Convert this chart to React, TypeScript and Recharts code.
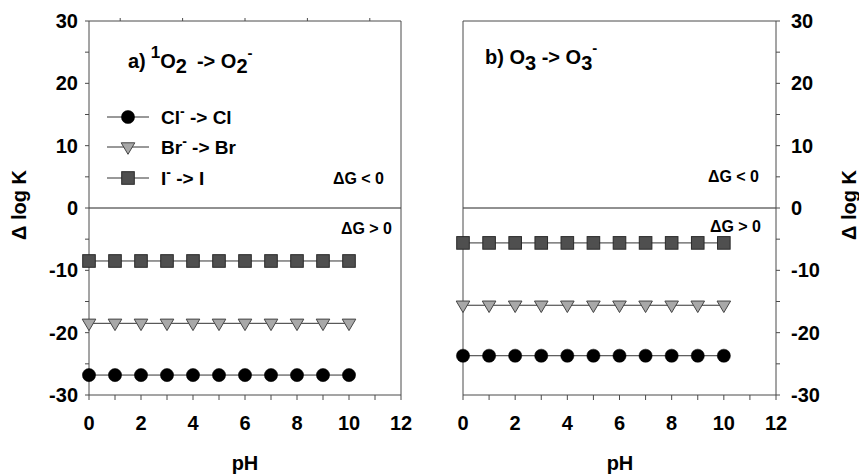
import React from 'react';
import { LineChart, Line, XAxis, YAxis, ReferenceLine, Legend } from 'recharts';

const pHValues = [0, 1, 2, 3, 4, 5, 6, 7, 8, 9, 10];
const xTicks = [0, 1, 2, 3, 4, 5, 6, 7, 8, 9, 10, 11, 12];
const xTopTicks = [1, 3, 5, 7, 9, 11];
const yTicks = [-30, -25, -20, -15, -10, -5, 0, 5, 10, 15, 20, 25, 30];

// panel a) 1O2 -> O2-
const aCl = [-26.8, -26.8, -26.8, -26.8, -26.8, -26.8, -26.8, -26.8, -26.8, -26.8, -26.8];
const aBr = [-18.5, -18.5, -18.5, -18.5, -18.5, -18.5, -18.5, -18.5, -18.5, -18.5, -18.5];
const aI = [-8.5, -8.5, -8.5, -8.5, -8.5, -8.5, -8.5, -8.5, -8.5, -8.5, -8.5];

// panel b) O3 -> O3-
const bCl = [-23.7, -23.7, -23.7, -23.7, -23.7, -23.7, -23.7, -23.7, -23.7, -23.7, -23.7];
const bBr = [-15.6, -15.6, -15.6, -15.6, -15.6, -15.6, -15.6, -15.6, -15.6, -15.6, -15.6];
const bI = [-5.6, -5.6, -5.6, -5.6, -5.6, -5.6, -5.6, -5.6, -5.6, -5.6, -5.6];

const dataA = pHValues.map((p, i) => ({ pH: p, cl: aCl[i], br: aBr[i], i_: aI[i] }));
const dataB = pHValues.map((p, i) => ({ pH: p, cl: bCl[i], br: bBr[i], i_: bI[i] }));

const FONT = '"Liberation Sans", Arial, Helvetica, sans-serif';
const AXIS = '#4a4a4a';
const LINE = '#333';

const CircleDot = (props: any) => {
  const { cx, cy, index } = props;
  if (cx == null || cy == null) return <g key={`c${index}`} />;
  return <circle key={`c${index}`} cx={cx} cy={cy} r={6.6} fill="#000" stroke="#000" strokeWidth={0.5} />;
};
const TriDot = (props: any) => {
  const { cx, cy, index } = props;
  if (cx == null || cy == null) return <g key={`t${index}`} />;
  const pts = `${cx - 6.8},${cy - 4.2} ${cx + 6.8},${cy - 4.2} ${cx},${cy + 7.3}`;
  return <polygon key={`t${index}`} points={pts} fill="#a8a8a8" stroke="#444" strokeWidth={1} />;
};
const SqDot = (props: any) => {
  const { cx, cy, index } = props;
  if (cx == null || cy == null) return <g key={`s${index}`} />;
  return <rect key={`s${index}`} x={cx - 6.3} y={cy - 6.3} width={12.6} height={12.6} fill="#4f4f4f" stroke="#2a2a2a" strokeWidth={1} />;
};

const XTick = (props: any) => {
  const { x, y, payload } = props;
  if (payload.value % 2 !== 0) return <g />;
  return (
    <text x={x} y={y + 28} textAnchor="middle" fontFamily={FONT} fontWeight="bold" fontSize={20} fill="#000">
      {payload.value}
    </text>
  );
};
const YTickLeft = (props: any) => {
  const { x, y, payload } = props;
  if (payload.value % 10 !== 0) return <g />;
  return (
    <text x={x - 5} y={y + 7} textAnchor="end" fontFamily={FONT} fontWeight="bold" fontSize={20} fill="#000">
      {payload.value}
    </text>
  );
};
const YTickRight = (props: any) => {
  const { x, y, payload } = props;
  if (payload.value % 10 !== 0) return <g />;
  return (
    <text x={x + 9} y={y + 7} textAnchor="start" fontFamily={FONT} fontWeight="bold" fontSize={20} fill="#000">
      {payload.value}
    </text>
  );
};
const Empty = () => <g />;

const legendRows = [
  { name: 'Cl', kind: 'circle' },
  { name: 'Br', kind: 'tri' },
  { name: 'I', kind: 'sq' },
];

const LegendContent = () => (
  <svg width={160} height={95} style={{ overflow: 'visible', display: 'block' }}>
    {legendRows.map((r, i) => {
      const cy = [15, 45, 76][i];
      const cx = 28;
      return (
        <g key={r.name}>
          <line x1={7} x2={49} y1={cy} y2={cy} stroke={LINE} strokeWidth={1} />
          {r.kind === 'circle' && <CircleDot cx={cx} cy={cy} index={i} />}
          {r.kind === 'tri' && <TriDot cx={cx} cy={cy} index={i} />}
          {r.kind === 'sq' && <SqDot cx={cx} cy={cy} index={i} />}
          <text x={61} y={cy + 7} fontFamily={FONT} fontWeight="bold" fontSize={19} fill="#000">
            {r.name}
            <tspan fontSize={14} dy={-8}>-</tspan>
            <tspan dy={8}>{` -> ${r.name}`}</tspan>
          </text>
        </g>
      );
    })}
  </svg>
);

export default function App() {
  return (
    <div style={{ position: 'absolute', left: 0, top: 0, width: 859, height: 475, background: '#fff' }}>
      <div style={{ position: 'absolute', left: 0, top: 0 }}>
        <LineChart width={430} height={475} data={dataA} margin={{ top: 20, right: 28, left: 0, bottom: 0 }}>
          <XAxis dataKey="pH" type="number" domain={[0, 12]} ticks={xTicks} interval={0} height={80}
            stroke={AXIS} tickLine={{ stroke: AXIS }} tickSize={5} tick={<XTick />} />
          <XAxis xAxisId="top" orientation="top" type="number" domain={[0, 12]} ticks={xTopTicks} interval={0} height={1}
            stroke={AXIS} tickLine={{ stroke: AXIS }} tickSize={3} tick={<Empty />} />
          <YAxis type="number" domain={[-30, 30]} ticks={yTicks} interval={0} width={89}
            stroke={AXIS} tickLine={{ stroke: AXIS }} tickSize={4} tick={<YTickLeft />} />
          <YAxis yAxisId="r" orientation="right" type="number" domain={[-30, 30]} ticks={yTicks} interval={0} width={1}
            stroke={AXIS} tickLine={{ stroke: AXIS }} tickSize={3} tick={<Empty />} />
          <ReferenceLine y={0} stroke="#222" strokeWidth={1} />
          <Legend layout="vertical" align="center" verticalAlign="middle" content={<LegendContent />}
            wrapperStyle={{ position: 'absolute', left: 100, top: 102, width: 160, height: 95 }} />
          <Line dataKey="cl" name="Cl- -> Cl" stroke={LINE} strokeWidth={1} dot={(p: any) => <CircleDot {...p} />} isAnimationActive={false} legendType="circle" />
          <Line dataKey="br" name="Br- -> Br" stroke={LINE} strokeWidth={1} dot={(p: any) => <TriDot {...p} />} isAnimationActive={false} legendType="triangle" />
          <Line dataKey="i_" name="I- -> I" stroke={LINE} strokeWidth={1} dot={(p: any) => <SqDot {...p} />} isAnimationActive={false} legendType="square" />
        </LineChart>
      </div>
      <div style={{ position: 'absolute', left: 430, top: 0 }}>
        <LineChart width={429} height={475} data={dataB} margin={{ top: 20, right: 0, left: 32, bottom: 0 }}>
          <XAxis dataKey="pH" type="number" domain={[0, 12]} ticks={xTicks} interval={0} height={80}
            stroke={AXIS} tickLine={{ stroke: AXIS }} tickSize={5} tick={<XTick />} />
          <XAxis xAxisId="top" orientation="top" type="number" domain={[0, 12]} ticks={[0, 12]} height={1}
            stroke={AXIS} tickLine={false} tick={<Empty />} />
          <YAxis type="number" orientation="right" domain={[-30, 30]} ticks={yTicks} interval={0} width={83}
            stroke={AXIS} tickLine={{ stroke: AXIS }} tickSize={4} tick={<YTickRight />} />
          <YAxis yAxisId="l" orientation="left" type="number" domain={[-30, 30]} ticks={yTicks} interval={0} width={1}
            stroke={AXIS} tickLine={{ stroke: AXIS }} tickSize={3} tick={<Empty />} />
          <ReferenceLine y={0} stroke="#222" strokeWidth={1} />
          <Line dataKey="cl" stroke={LINE} strokeWidth={1} dot={(p: any) => <CircleDot {...p} />} isAnimationActive={false} />
          <Line dataKey="br" stroke={LINE} strokeWidth={1} dot={(p: any) => <TriDot {...p} />} isAnimationActive={false} />
          <Line dataKey="i_" stroke={LINE} strokeWidth={1} dot={(p: any) => <SqDot {...p} />} isAnimationActive={false} />
        </LineChart>
      </div>
      <svg width={859} height={475} style={{ position: 'absolute', left: 0, top: 0, pointerEvents: 'none' }}
        fontFamily={FONT} fontWeight="bold" fill="#000">
        <text x={128} y={68} fontSize={20}>
          a)
          <tspan dx={5} dy={-10} fontSize={17}>1</tspan>
          <tspan dy={10}>O</tspan>
          <tspan dy={5}>2</tspan>
          <tspan dy={-5} dx={10}>{'-> O'}</tspan>
          <tspan dy={5}>2</tspan>
          <tspan dy={-15} fontSize={15}>-</tspan>
        </text>
        <text x={485} y={64} fontSize={20}>
          b) O
          <tspan dy={6}>3</tspan>
          <tspan dy={-6}>{' -> O'}</tspan>
          <tspan dy={6}>3</tspan>
          <tspan dy={-17} fontSize={15}>-</tspan>
        </text>
        <text x={384} y={184} fontSize={16} textAnchor="end">ΔG &lt; 0</text>
        <text x={392} y={234} fontSize={16} textAnchor="end">ΔG &gt; 0</text>
        <text x={759} y={182} fontSize={16} textAnchor="end">ΔG &lt; 0</text>
        <text x={761} y={232} fontSize={16} textAnchor="end">ΔG &gt; 0</text>
        <text x={245} y={470} fontSize={20} textAnchor="middle">pH</text>
        <text x={620} y={470} fontSize={20} textAnchor="middle">pH</text>
        <text x={0} y={0} fontSize={20} textAnchor="middle" transform="translate(26,205) rotate(-90)">Δ log K</text>
        <text x={0} y={0} fontSize={20} textAnchor="middle" transform="translate(856,205) rotate(-90)">Δ log K</text>
      </svg>
    </div>
  );
}
